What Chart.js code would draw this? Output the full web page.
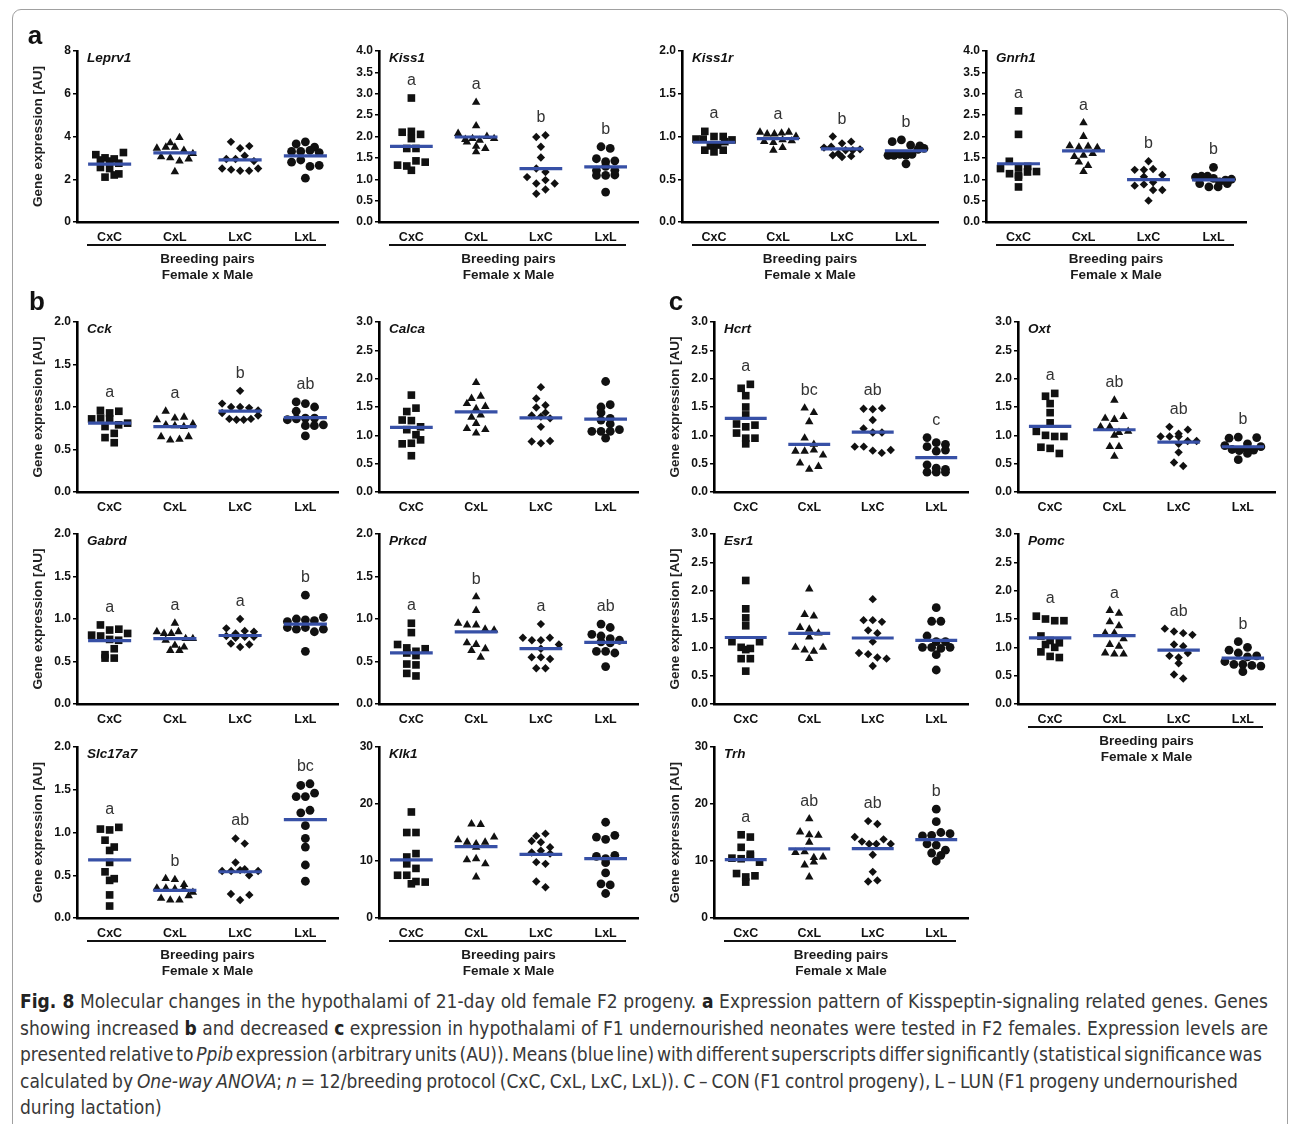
<!DOCTYPE html>
<html>
<head>
<meta charset="utf-8">
<title>Fig. 8 – Hypothalamic gene expression in F2 females</title>
<script src="https://cdn.jsdelivr.net/npm/chart.js@4.4.1/dist/chart.umd.min.js"></script>
<style>
  html, body { margin: 0; padding: 0; background: #fff; }
  body { width: 1290px; height: 1124px; position: relative; overflow: hidden;
         font-family: "Liberation Sans", Arial, sans-serif; }
  .frame { position: absolute; left: 12px; top: 9px; width: 1276px; height: 1150px;
           border: 1.3px solid #a0a0a0; border-radius: 9px; box-sizing: border-box; }
  canvas { position: absolute; }
  .plabel { position: absolute; font: bold 26px "Liberation Sans", Arial, sans-serif; color: #111;
            line-height: 26px; transform: translate(-50%, -50%); }
  .uline { position: absolute; height: 1.6px; background: #111; }
  .foot { position: absolute; font: bold 13.5px "Liberation Sans", Arial, sans-serif; color: #1a1a1a;
          white-space: nowrap; transform: translate(-50%, -50%); line-height: 16px; }
  .cap { position: absolute; left: 20px; color: #383838; font-size: 16px; line-height: 20px;
         font-family: "Liberation Sans Narrow", "DejaVu Sans Condensed", "Open Sans", sans-serif;
         font-stretch: condensed; }
  .cap-line { display: inline-block; white-space: nowrap; transform-origin: 0 50%; }
  .cap b { color: #222; }
</style>
</head>
<body>
<div class="frame"></div>

<script>
// ---- categories -------------------------------------------------------
const GROUPS = ['CxC', 'CxL', 'LxC', 'LxL'];

// ---- expression values (AU), one array per breeding pair ----------------
const leprv1 = [
  [3.15, 3.0, 2.9, 2.85, 2.95, 3.25, 2.55, 2.5, 2.25, 2.1, 2.2, 2.75],
  [3.7, 3.95, 3.45, 3.5, 3.5, 3.35, 3.05, 3.0, 2.85, 3.2, 2.35, 2.95],
  [3.75, 3.45, 3.55, 2.95, 2.95, 3.1, 2.85, 2.5, 2.45, 2.4, 2.4, 2.5],
  [3.65, 3.75, 3.5, 3.3, 3.3, 3.35, 3.25, 2.8, 2.9, 2.6, 2.65, 2.05]
];
const kiss1 = [
  [2.9, 2.1, 2.12, 1.95, 1.72, 1.72, 1.33, 1.21, 1.31, 1.43, 2.05, 1.4],
  [2.8, 2.25, 2.07, 1.93, 1.95, 1.91, 1.87, 1.77, 1.72, 1.64, 2.0, 1.95],
  [1.99, 2.03, 1.76, 1.51, 1.25, 1.17, 1.05, 0.9, 0.98, 0.9, 0.66, 0.76],
  [1.76, 1.72, 1.48, 1.41, 1.43, 1.21, 1.3, 1.09, 1.09, 1.1, 1.21, 0.7]
];
const kiss1r = [
  [1.06, 1.0, 0.97, 1.0, 0.97, 0.89, 0.84, 0.82, 0.84, 0.9, 0.94, 0.96],
  [1.05, 1.03, 1.03, 1.04, 1.05, 0.94, 0.93, 0.96, 0.84, 0.87, 0.95, 1.0],
  [1.0, 0.92, 0.94, 0.87, 0.88, 0.78, 0.76, 0.77, 0.8, 0.84, 0.84, 0.85],
  [0.94, 0.96, 0.9, 0.89, 0.78, 0.78, 0.79, 0.78, 0.79, 0.68, 0.85, 0.86]
];
const gnrh1 = [
  [2.6, 2.05, 1.42, 1.28, 1.25, 1.3, 1.13, 1.1, 1.05, 1.17, 1.18, 0.82],
  [2.32, 2.0, 1.78, 1.75, 1.77, 1.74, 1.53, 1.56, 1.4, 1.6, 1.18, 1.32],
  [1.42, 1.22, 1.22, 1.24, 1.06, 1.1, 0.85, 0.88, 0.93, 0.75, 0.75, 0.5],
  [1.28, 1.05, 1.07, 1.07, 1.02, 0.9, 0.82, 0.82, 0.9, 0.94, 0.98, 1.0]
];
const cck = [
  [0.96, 0.93, 0.95, 0.86, 0.87, 0.86, 0.77, 0.79, 0.81, 0.69, 0.64, 0.58],
  [0.95, 0.87, 0.85, 0.88, 0.79, 0.78, 0.77, 0.8, 0.65, 0.61, 0.62, 0.65],
  [1.19, 1.04, 1.0, 1.0, 0.99, 0.93, 0.96, 0.86, 0.85, 0.85, 0.86, 0.9],
  [1.06, 1.04, 1.0, 0.95, 0.87, 0.85, 0.87, 0.86, 0.78, 0.78, 0.79, 0.66]
];
const calca = [
  [1.71, 1.42, 1.48, 1.27, 1.26, 1.15, 1.1, 1.01, 0.85, 0.86, 0.92, 0.64],
  [1.93, 1.65, 1.69, 1.56, 1.47, 1.51, 1.32, 1.36, 1.12, 1.21, 1.04, 1.1],
  [1.85, 1.65, 1.53, 1.49, 1.4, 1.35, 1.33, 1.3, 1.15, 0.89, 0.86, 0.9],
  [1.95, 1.5, 1.54, 1.4, 1.27, 1.3, 1.2, 1.07, 1.07, 1.07, 0.95, 1.1]
];
const hcrt = [
  [1.83, 1.9, 1.7, 1.5, 1.36, 1.2, 1.15, 1.18, 1.04, 0.95, 0.95, 0.85],
  [1.48, 1.4, 1.24, 0.95, 0.84, 0.72, 0.72, 0.74, 0.51, 0.4, 0.45, 0.65],
  [1.47, 1.46, 1.48, 1.27, 1.12, 1.05, 1.05, 0.8, 0.8, 0.73, 0.69, 0.74],
  [0.96, 0.87, 0.8, 0.84, 0.72, 0.74, 0.48, 0.42, 0.35, 0.35, 0.35, 0.4]
];
const oxt = [
  [1.69, 1.74, 1.56, 1.4, 1.22, 1.07, 1.0, 0.98, 0.98, 0.79, 0.77, 0.68],
  [1.62, 1.3, 1.28, 1.33, 1.15, 1.15, 1.05, 1.07, 0.8, 0.8, 1.0, 0.63],
  [1.15, 1.03, 0.98, 1.1, 0.98, 0.98, 0.9, 0.9, 0.7, 0.52, 0.46, 0.85],
  [0.95, 0.97, 0.85, 0.82, 0.96, 0.75, 0.73, 0.76, 0.74, 0.57, 0.68, 0.8]
];
const gabrd = [
  [0.93, 0.87, 0.88, 0.81, 0.8, 0.76, 0.75, 0.58, 0.54, 0.54, 0.65, 0.83],
  [0.95, 0.85, 0.83, 0.83, 0.85, 0.77, 0.75, 0.77, 0.69, 0.63, 0.63, 0.67],
  [1.0, 0.89, 0.83, 0.86, 0.85, 0.8, 0.78, 0.79, 0.79, 0.71, 0.67, 0.7],
  [1.28, 0.97, 1.0, 0.99, 0.98, 1.02, 0.9, 0.88, 0.9, 0.85, 0.88, 0.62]
];
const prkcd = [
  [0.95, 0.84, 0.7, 0.66, 0.6, 0.62, 0.65, 0.57, 0.47, 0.46, 0.36, 0.33],
  [1.26, 1.1, 0.95, 0.93, 0.93, 0.88, 0.87, 0.72, 0.7, 0.65, 0.63, 0.55],
  [0.94, 0.78, 0.75, 0.75, 0.78, 0.7, 0.65, 0.55, 0.55, 0.53, 0.42, 0.42],
  [0.94, 0.9, 0.82, 0.8, 0.77, 0.75, 0.73, 0.72, 0.62, 0.62, 0.6, 0.44]
];
const esr1 = [
  [2.18, 1.68, 1.52, 1.38, 1.1, 1.0, 0.98, 0.96, 1.1, 0.8, 0.8, 0.58],
  [2.03, 1.58, 1.55, 1.35, 1.32, 1.25, 1.18, 1.0, 0.95, 0.93, 0.8, 1.0],
  [1.85, 1.48, 1.48, 1.45, 1.3, 1.25, 1.1, 0.9, 0.88, 0.82, 0.8, 0.67],
  [1.7, 1.46, 1.46, 1.2, 1.1, 1.1, 1.0, 1.0, 0.98, 1.0, 0.87, 0.6]
];
const pomc = [
  [1.55, 1.5, 1.47, 1.47, 1.2, 1.12, 1.08, 1.05, 1.0, 0.92, 0.84, 0.82],
  [1.65, 1.6, 1.45, 1.38, 1.25, 1.25, 1.15, 1.05, 1.02, 0.9, 0.88, 0.88],
  [1.33, 1.28, 1.25, 1.22, 1.05, 1.02, 0.85, 0.82, 0.9, 0.72, 0.52, 0.45],
  [1.1, 1.0, 0.95, 0.9, 0.83, 0.85, 0.75, 0.7, 0.7, 0.68, 0.67, 0.57]
];
const slc17a7 = [
  [1.04, 1.03, 1.06, 0.91, 0.83, 0.79, 0.65, 0.54, 0.44, 0.46, 0.27, 0.14],
  [0.46, 0.45, 0.39, 0.35, 0.35, 0.34, 0.34, 0.23, 0.21, 0.21, 0.26, 0.3],
  [0.93, 0.87, 0.65, 0.57, 0.55, 0.55, 0.56, 0.5, 0.28, 0.21, 0.27, 0.55],
  [1.55, 1.57, 1.42, 1.42, 1.46, 1.23, 1.26, 1.08, 0.83, 0.93, 0.62, 0.43]
];
const klk1 = [
  [18.6, 15.0, 15.0, 10.7, 11.3, 9.5, 8.7, 7.5, 7.5, 6.4, 6.0, 6.3],
  [16.5, 16.4, 13.7, 13.3, 13.0, 13.3, 14.2, 12.4, 10.2, 10.4, 9.5, 7.2],
  [14.4, 14.8, 13.5, 13.3, 12.4, 11.5, 11.8, 9.8, 9.5, 6.4, 5.4, 11.3],
  [16.8, 14.2, 13.8, 14.5, 10.8, 9.7, 10.4, 11.0, 7.9, 6.0, 5.8, 4.3]
];
const trh = [
  [14.6, 14.2, 12.4, 11.2, 10.5, 10.4, 10.9, 9.8, 7.8, 7.2, 6.3, 7.4],
  [17.4, 15.1, 14.6, 14.5, 13.3, 11.5, 11.6, 10.6, 10.7, 9.3, 9.8, 7.2],
  [17.0, 16.5, 14.2, 13.4, 13.0, 13.0, 13.8, 11.1, 8.1, 6.4, 6.6, 13.0],
  [19.1, 16.9, 14.4, 14.5, 15.0, 14.8, 13.0, 12.8, 11.4, 11.0, 11.9, 10.0]
];

// ---- significance superscripts per breeding pair -------------------------
const kiss1Sig   = ['a', 'a', 'b', 'b'];
const kiss1rSig  = ['a', 'a', 'b', 'b'];
const gnrh1Sig   = ['a', 'a', 'b', 'b'];
const cckSig     = ['a', 'a', 'b', 'ab'];
const hcrtSig    = ['a', 'bc', 'ab', 'c'];
const oxtSig     = ['a', 'ab', 'ab', 'b'];
const gabrdSig   = ['a', 'a', 'a', 'b'];
const prkcdSig   = ['a', 'b', 'a', 'ab'];
const pomcSig    = ['a', 'a', 'ab', 'b'];
const slc17a7Sig = ['a', 'b', 'ab', 'bc'];
const trhSig     = ['a', 'ab', 'ab', 'b'];

// ---- y-axis ticks: [max, step] -------------------------------------------
const ticks8    = [8, 2];
const ticks4    = [4, 0.5];
const ticks2    = [2, 0.5];
const ticks3    = [3, 0.5];
const ticks30   = [30, 10];

// ---- panel layout -----------------------------------------------------------
const COL = [[77, 338], [379, 638], [714, 968], [1018, 1275]];
const ROWA = [51, 222], ROW1 = [322, 492], ROW2 = [534, 704], ROW3 = [747, 918];

const panels = [
  { gene: 'Leprv1',  values: leprv1,  sig: null,       ticks: ticks8,  dec: 0, col: COL[0], row: ROWA, title: true,  foot: true },
  { gene: 'Kiss1',   values: kiss1,   sig: kiss1Sig,   ticks: ticks4,  dec: 1, col: [379, 638], row: ROWA, foot: true },
  { gene: 'Kiss1r',  values: kiss1r,  sig: kiss1rSig,  ticks: ticks2,  dec: 1, col: [682, 938], row: ROWA, foot: true },
  { gene: 'Gnrh1',   values: gnrh1,   sig: gnrh1Sig,   ticks: ticks4,  dec: 1, col: [986, 1246], row: ROWA, foot: true },

  { gene: 'Cck',     values: cck,     sig: cckSig,     ticks: ticks2,  dec: 1, col: COL[0], row: ROW1, title: true },
  { gene: 'Calca',   values: calca,   sig: null,       ticks: ticks3,  dec: 1, col: COL[1], row: ROW1 },
  { gene: 'Hcrt',    values: hcrt,    sig: hcrtSig,    ticks: ticks3,  dec: 1, col: COL[2], row: ROW1, title: true },
  { gene: 'Oxt',     values: oxt,     sig: oxtSig,     ticks: ticks3,  dec: 1, col: COL[3], row: ROW1 },

  { gene: 'Gabrd',   values: gabrd,   sig: gabrdSig,   ticks: ticks2,  dec: 1, col: COL[0], row: ROW2, title: true },
  { gene: 'Prkcd',   values: prkcd,   sig: prkcdSig,   ticks: ticks2,  dec: 1, col: COL[1], row: ROW2 },
  { gene: 'Esr1',    values: esr1,    sig: null,       ticks: ticks3,  dec: 1, col: COL[2], row: ROW2, title: true },
  { gene: 'Pomc',    values: pomc,    sig: pomcSig,    ticks: ticks3,  dec: 1, col: COL[3], row: ROW2, foot: true },

  { gene: 'Slc17a7', values: slc17a7, sig: slc17a7Sig, ticks: ticks2,  dec: 1, col: COL[0], row: ROW3, title: true, foot: true },
  { gene: 'Klk1',    values: klk1,    sig: null,       ticks: ticks30, dec: 0, col: COL[1], row: ROW3, foot: true },
  { gene: 'Trh',     values: trh,     sig: trhSig,     ticks: ticks30, dec: 0, col: COL[2], row: ROW3, title: true, foot: true }
];

const BLUE = '#3750a6';
const INK = '#111';
const MARKERS = [
  { style: 'rect',     r: 5.4 },
  { style: 'triangle', r: 4.9 },
  { style: 'rectRot',  r: 4.2 },
  { style: 'circle',   r: 4.4 }
];
const FONT = '"Liberation Sans", Arial, Helvetica, sans-serif';
Chart.defaults.font.family = FONT;

// Column-scatter layout: values that fall within one marker height are put
// side by side in a row, each row centred on its column; crowded rows are
// squeezed so they stay within a fixed width.
function columnRows(values, pxPerUnit, rowH, gap, maxWidth) {
  const order = values.map((_, i) => i).sort((a, b) => values[b] - values[a]);
  const out = new Array(values.length).fill(0);
  let k = 0;
  while (k < order.length) {
    const top = values[order[k]] * pxPerUnit;
    const row = [];
    while (k < order.length && top - values[order[k]] * pxPerUnit <= rowH) { row.push(order[k]); k++; }
    row.sort((a, b) => a - b);
    const g = row.length > 1 ? Math.min(gap, maxWidth / (row.length - 1)) : 0;
    row.forEach((idx, j) => { out[idx] = (j - (row.length - 1) / 2) * g; });
  }
  return out;
}

const mean = arr => arr.reduce((s, v) => s + v, 0) / arr.length;

// gene name inside the plot and significance letters above each column
function annotations(p) {
  return {
    id: 'annot_' + p.gene,
    afterDatasetsDraw(chart) {
      const { ctx, chartArea: a, scales: { x, y } } = chart;
      ctx.save();
      ctx.fillStyle = INK;
      ctx.font = 'italic bold 13.5px ' + FONT;
      ctx.textAlign = 'left';
      ctx.textBaseline = 'middle';
      ctx.fillText(p.gene, a.left + 10, a.top + 7);
      if (p.sig) {
        ctx.font = '16px ' + FONT;
        ctx.fillStyle = '#333';
        ctx.textAlign = 'center';
        ctx.textBaseline = 'alphabetic';
        p.sig.forEach((t, i) => {
          const top = Math.max(...p.values[i]);
          ctx.fillText(t, x.getPixelForValue(i), y.getPixelForValue(top) - 13);
        });
      }
      ctx.restore();
    }
  };
}

function addDiv(cls, text, left, top, width) {
  const el = document.createElement('div');
  el.className = cls;
  if (text) el.textContent = text;
  el.style.left = left + 'px';
  el.style.top = top + 'px';
  if (width != null) el.style.width = width + 'px';
  document.body.appendChild(el);
  return el;
}

const YW = 50, PADT = 12, PADR = 8, XH = 26;

function drawPanel(p) {
  const [ax, right] = p.col;
  const [yTop, yZero] = p.row;
  const plotW = right - ax, plotH = yZero - yTop;
  const [yMax, yStep] = p.ticks;

  const cv = document.createElement('canvas');
  cv.width = plotW + YW + PADR;
  cv.height = plotH + PADT + XH;
  cv.style.left = (ax - YW) + 'px';
  cv.style.top = (yTop - PADT) + 'px';
  document.body.appendChild(cv);

  const pxPerCat = plotW / GROUPS.length;
  const pxPerVal = plotH / yMax;
  const datasets = [];
  p.values.forEach((vals, i) => {
    const m = mean(vals);
    datasets.push({
      type: 'line', order: 0,
      data: [{ x: i - 0.33, y: m }, { x: i + 0.33, y: m }],
      borderColor: BLUE, borderWidth: 3.2, borderCapStyle: 'butt',
      pointRadius: 0, fill: false
    });
    const off = columnRows(vals, pxPerVal, 7, 9.2, 36);
    datasets.push({
      type: 'scatter', order: 1,
      data: vals.map((v, k) => ({ x: i + off[k] / pxPerCat, y: v })),
      pointStyle: MARKERS[i].style, pointRadius: MARKERS[i].r,
      backgroundColor: INK, borderWidth: 0
    });
  });

  new Chart(cv, {
    type: 'scatter',
    data: { datasets },
    plugins: [annotations(p)],
    options: {
      responsive: false, animation: false, devicePixelRatio: 1,
      events: [],
      layout: { padding: { top: PADT, right: PADR, bottom: 0, left: 0 } },
      plugins: { legend: { display: false }, tooltip: { enabled: false } },
      scales: {
        x: {
          type: 'linear', min: -0.5, max: 3.5,
          afterBuildTicks: s => { s.ticks = GROUPS.map((_, i) => ({ value: i })); },
          afterFit: s => { s.height = XH; },
          ticks: {
            callback: v => GROUPS[v] ?? '',
            font: { weight: 'bold', size: 12.5 }, color: INK,
            padding: 8, maxRotation: 0, autoSkip: false
          },
          grid: { display: false, drawTicks: false },
          border: { display: true, color: '#000', width: 2.6 }
        },
        y: {
          type: 'linear', min: 0, max: yMax,
          afterBuildTicks: s => {
            const t = [];
            for (let v = 0; v <= yMax + 1e-9; v += yStep) t.push({ value: +v.toFixed(3) });
            s.ticks = t;
          },
          afterFit: s => { s.width = YW; },
          ticks: {
            callback: v => p.dec ? Number(v).toFixed(p.dec) : String(v),
            font: { weight: 'bold', size: 12 }, color: INK, padding: 2
          },
          grid: { display: true, drawOnChartArea: false, drawTicks: true, tickLength: 4,
                  color: '#000', lineWidth: 1.5 },
          border: { display: true, color: '#000', width: 2.6 },
          title: { display: !!p.title, text: 'Gene expression [AU]',
                   font: { weight: 'bold', size: 13.5 }, color: '#222',
                   padding: { top: 3, bottom: 0 } }
        }
      }
    }
  });

  if (p.foot) {
    addDiv('uline', '', ax + 10, yZero + 22, plotW - 22);
    addDiv('foot', 'Breeding pairs', ax + plotW / 2, yZero + 37);
    addDiv('foot', 'Female x Male', ax + plotW / 2, yZero + 53);
  }
}

panels.forEach(drawPanel);

// panel letters
addDiv('plabel', 'a', 35, 35);
addDiv('plabel', 'b', 37, 301);
addDiv('plabel', 'c', 676, 301);
</script>

<div class="cap" style="top:991px"><span class="cap-line" data-w="1248"><b>Fig. 8</b> Molecular changes in the hypothalami of 21-day old female F2 progeny. <b>a</b> Expression pattern of Kisspeptin-signaling related genes. Genes</span></div>
<div class="cap" style="top:1018px"><span class="cap-line" data-w="1248">showing increased <b>b</b> and decreased <b>c</b> expression in hypothalami of F1 undernourished neonates were tested in F2 females. Expression levels are</span></div>
<div class="cap" style="top:1044px"><span class="cap-line" data-w="1242">presented relative to <i>Ppib</i> expression (arbitrary units (AU)). Means (blue line) with different superscripts differ significantly (statistical significance was</span></div>
<div class="cap" style="top:1071px"><span class="cap-line" data-w="1218">calculated by <i>One-way ANOVA</i>; <i>n</i> = 12/breeding protocol (CxC, CxL, LxC, LxL)). C – CON (F1 control progeny), L – LUN (F1 progeny undernourished</span></div>
<div class="cap" style="top:1097px"><span class="cap-line">during lactation)</span></div>

<script>
// caption: one font size taken from the first line, then each line set to its width
(function () {
  const lines = Array.from(document.querySelectorAll('.cap-line'));
  const first = lines[0];
  const w0 = first.getBoundingClientRect().width;
  const fs = Math.min(19, 16 * (+first.dataset.w) / w0);
  document.querySelectorAll('.cap').forEach(c => { c.style.fontSize = fs.toFixed(2) + 'px'; });
  lines.forEach(el => {
    const target = +el.dataset.w;
    if (!target) return;
    const w = el.getBoundingClientRect().width;
    const spaces = (el.textContent.match(/ /g) || []).length;
    el.style.wordSpacing = ((target - w) / spaces) + 'px';
  });
})();
</script>
</body>
</html>
